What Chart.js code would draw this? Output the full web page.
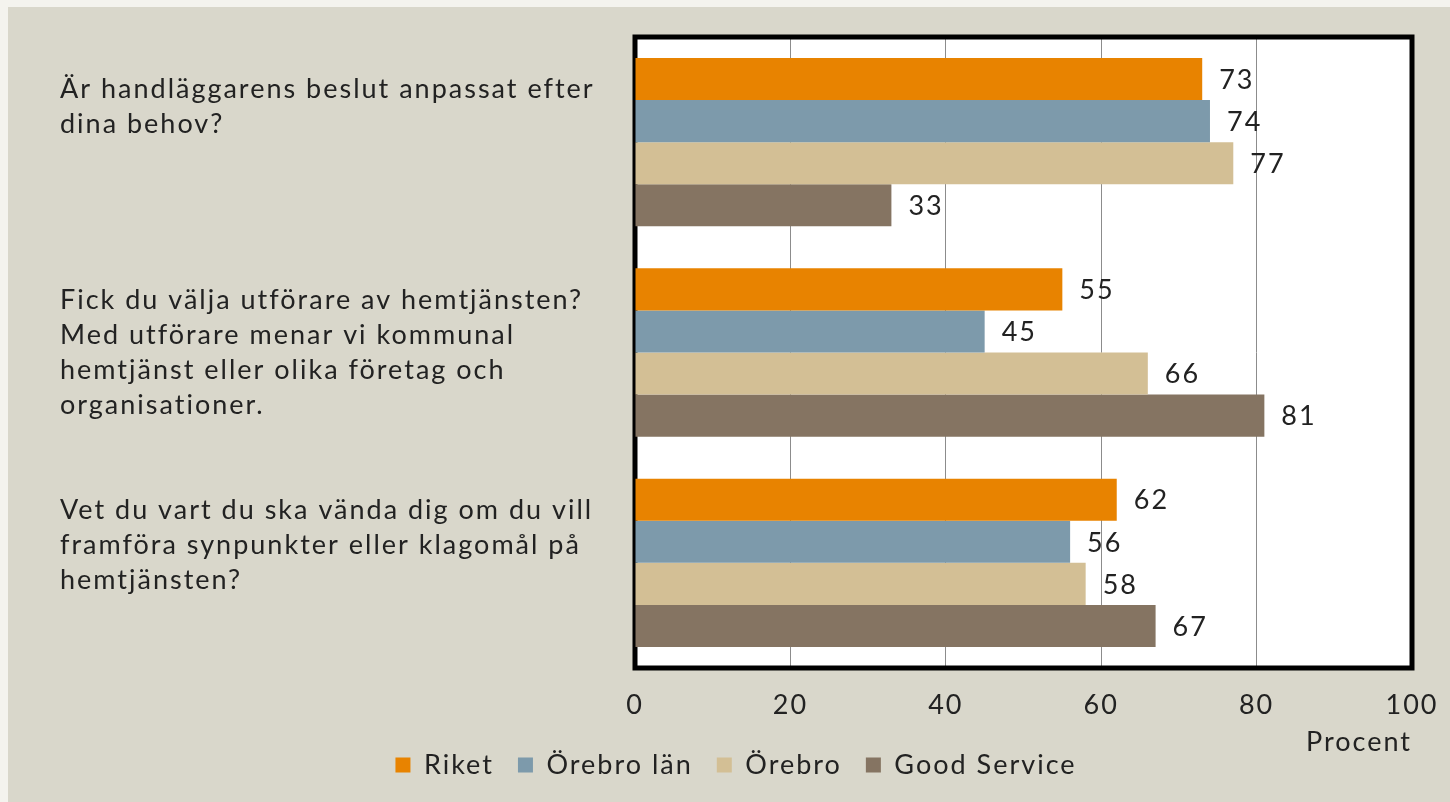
<!DOCTYPE html>
<html>
<head>
<meta charset="utf-8">
<script src="https://cdn.jsdelivr.net/npm/chart.js@4.4.0/dist/chart.umd.min.js"></script>
<style>
  html, body { margin: 0; padding: 0; background: #f4f3ee; }
  #wrap { position: absolute; left: 8px; top: 7px; width: 1442px; height: 795px; background: #d9d7cb; }
  canvas { display: block; }
</style>
</head>
<body>
<div id="wrap"><canvas id="c" width="1442" height="795"></canvas></div>
<script>
const categories = [
  ["Är handläggarens beslut anpassat efter", "dina behov?", "", ""],
  ["Fick du välja utförare av hemtjänsten?", "Med utförare menar vi kommunal", "hemtjänst eller olika företag och", "organisationer."],
  ["Vet du vart du ska vända dig om du vill", "framföra synpunkter eller klagomål på", "hemtjänsten?", ""]
];
const seriesNames = ["Riket", "Örebro län", "Örebro", "Good Service"];
const riket = [73, 55, 62];
const orebroLan = [74, 45, 56];
const orebro = [77, 66, 58];
const goodService = [33, 81, 67];
const xTicks = [0, 20, 40, 60, 80, 100];
const axisTitle = "Procent";
const colors = ["#e88300", "#7d9aab", "#d3bf95", "#857462"];

const FONT = "Lato";
const TXT = "#222222";
const SPACING = '2px';

const spacingPlugin = {
  id: 'spacing',
  beforeUpdate(chart) { chart.ctx.letterSpacing = SPACING; },
  beforeDraw(chart) { chart.ctx.letterSpacing = SPACING; }
};

const framePlugin = {
  id: 'frame',
  beforeDraw(chart) {
    const {ctx, chartArea: a} = chart;
    ctx.save();
    ctx.fillStyle = '#ffffff';
    ctx.fillRect(a.left, a.top, a.right - a.left, a.bottom - a.top);
    ctx.restore();
  },
  beforeDatasetsDraw(chart) {
    const {ctx, chartArea: a} = chart;
    ctx.save();
    ctx.strokeStyle = '#000000';
    ctx.lineWidth = 5;
    ctx.strokeRect(a.left, a.top, a.right - a.left, a.bottom - a.top);
    ctx.restore();
  },
  afterDatasetsDraw(chart) {
    const {ctx} = chart;
    ctx.save();
    ctx.font = "27px " + FONT;
    ctx.fillStyle = TXT;
    ctx.textAlign = 'left';
    ctx.textBaseline = 'middle';
    chart.data.datasets.forEach((ds, i) => {
      const meta = chart.getDatasetMeta(i);
      meta.data.forEach((bar, j) => {
        ctx.fillText(String(ds.data[j]), bar.x + 17, bar.y + 1);
      });
    });
    ctx.restore();
  }
};

const seriesData = [riket, orebroLan, orebro, goodService];

new Chart(document.getElementById('c'), {
  type: 'bar',
  data: {
    labels: categories,
    datasets: seriesNames.map((n, i) => ({
      label: n,
      data: seriesData[i],
      backgroundColor: colors[i],
      borderWidth: 0,
      categoryPercentage: 0.8,
      barPercentage: 1.0
    }))
  },
  options: {
    indexAxis: 'y',
    responsive: false,
    animation: false,
    layout: { padding: { left: 52, right: 38, top: 30, bottom: 13.5 } },
    plugins: {
      legend: {
        position: 'bottom',
        labels: {
          boxWidth: 15, boxHeight: 15, padding: 24,
          color: TXT,
          font: { family: FONT, size: 27 }
        }
      },
      tooltip: { enabled: false }
    },
    scales: {
      x: {
        min: 0, max: 100,
        afterBuildTicks(scale) { scale.ticks = xTicks.map(v => ({ value: v })); },
        afterFit(scale) { scale.paddingLeft = 0; scale.paddingRight = 0; },
        grid: { color: '#8c8c8c', lineWidth: 1, drawTicks: false },
        border: { display: false },
        ticks: { color: TXT, padding: 21, font: { family: FONT, size: 27 } },
        title: {
          display: true, text: axisTitle, align: 'end', color: TXT,
          font: { family: FONT, size: 27 },
          padding: { top: -16.6, bottom: -30.7 }
        }
      },
      y: {
        grid: { display: false },
        border: { display: false },
        afterFit(scale) {
          scale.width = 575;
          scale.paddingTop = 0;
          scale.paddingBottom = 0;
        },
        ticks: {
          autoSkip: false,
          crossAlign: 'far',
          color: TXT,
          font: { family: FONT, size: 27, lineHeight: 1.3 }
        }
      }
    }
  },
  plugins: [spacingPlugin, framePlugin]
});
</script>
</body>
</html>
